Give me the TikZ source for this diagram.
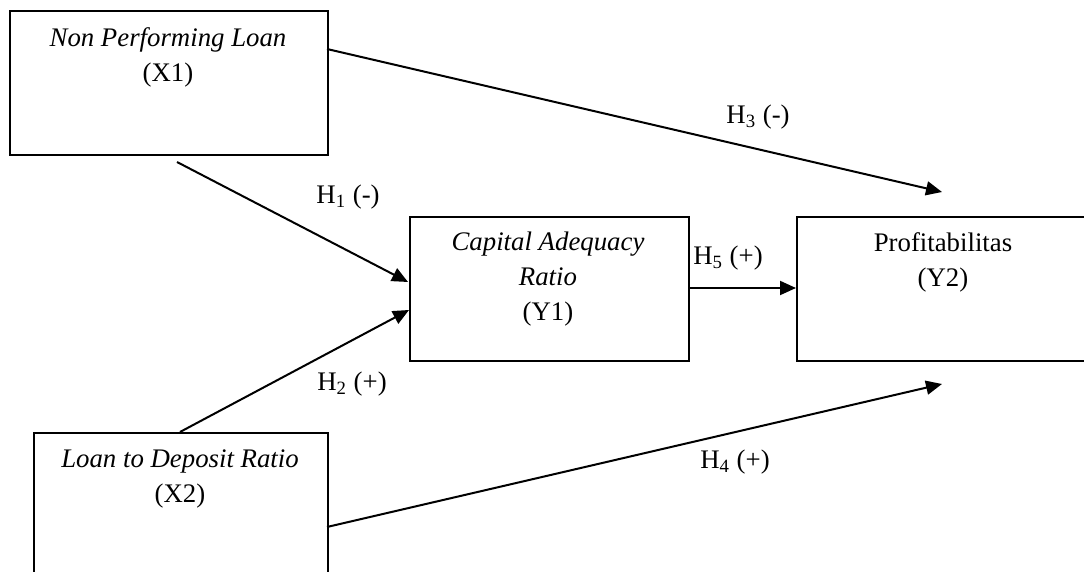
\documentclass[tikz,border=0pt]{standalone}
\usepackage{fontspec}
\setmainfont{Liberation Serif}
\usetikzlibrary{arrows.meta}
\tikzset{
  box/.style={draw, line width=1pt, minimum width=#1, inner sep=0pt},
  lbl/.style={font=\fontsize{13.4}{17.5}\selectfont, inner sep=0pt, align=center},
  conn/.style={line width=1pt, -{Triangle[length=8pt,width=7pt]}},
  plain/.style={line width=1pt}
}
\begin{document}
\begin{tikzpicture}[x=0.5pt,y=-0.5pt]
\useasboundingbox (0,0) rectangle (1084,572);
\clip (0,0) rectangle (1084,572);
% boxes
\node[box=159pt, minimum height=72pt, anchor=north west] (x1) at (9,10) {};
\node[box=139.5pt, minimum height=72pt, anchor=north west] (y1) at (409,216) {};
\node[box=160pt, minimum height=72pt, anchor=north west] (y2) at (796,216) {};
\node[box=147pt, minimum height=72pt, anchor=north west] (x2) at (33,432) {};
% texts
\node[lbl] (tx1) at (168,57) {\textit{Non Performing Loan}\\(X1)};
\node[lbl] (ty1) at (548,279) {\textit{Capital Adequacy}\\\textit{Ratio}\\(Y1)};
\node[lbl] (ty2) at (943,262) {Profitabilitas\\(Y2)};
\node[lbl] (tx2) at (180,479) {\textit{Loan to Deposit Ratio}\\(X2)};
% connector end points
\coordinate (h1s) at (177,162);
\coordinate (h1e) at (408,282);
\coordinate (h2s) at (180,432);
\coordinate (h2e) at (409,310);
\coordinate (h3s) at (327,49);
\coordinate (h3e) at (942,192);
\coordinate (h4s) at (327,527);
\coordinate (h4e) at (942,384);
\coordinate (h5s) at (688,288);
\coordinate (h5e) at (796,288);
% connectors
\draw[conn] (h1s) -- (h1e);
\draw[conn] (h2s) -- (h2e);
\draw[conn] (h3s) -- (h3e);
\draw[conn] (h4s) -- (h4e);
\draw[conn] (h5s) -- (h5e);
% labels
\node[lbl] (l1) at (348,197) {H\textsubscript{1} (-)};
\node[lbl] (l2) at (352,384) {H\textsubscript{2} (+)};
\node[lbl] (l3) at (758,117) {H\textsubscript{3} (-)};
\node[lbl] (l4) at (735,462) {H\textsubscript{4} (+)};
\node[lbl] (l5) at (728,258) {H\textsubscript{5} (+)};
\end{tikzpicture}
\end{document}
